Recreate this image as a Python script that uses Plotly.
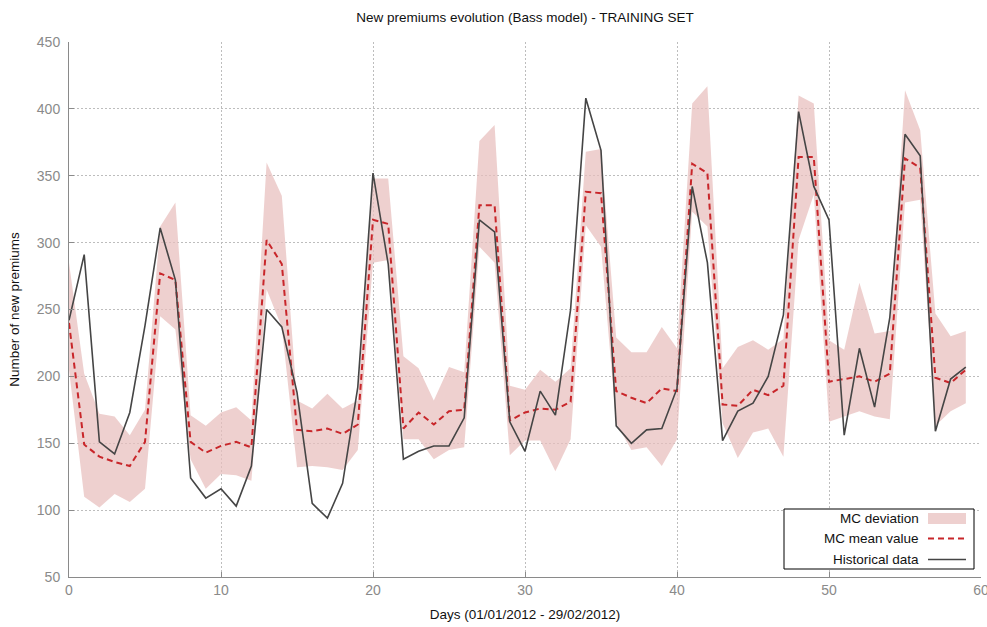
import plotly.graph_objects as go

days = list(range(60))
historical = [242, 291, 151, 142, 173, 238, 311, 272, 124, 109, 116, 103, 133, 250, 237,
              188, 105, 94, 120, 192, 352, 284, 138, 144, 148, 148, 169, 317, 308, 166,
              144, 189, 171, 250, 408, 369, 163, 150, 160, 161, 191, 342, 285, 152, 174,
              180, 200, 246, 398, 342, 317, 156, 221, 177, 244, 381, 365, 159, 198, 207]
mc_mean = [240, 149, 140, 136, 133, 151, 277, 272, 151, 143, 148, 151, 147, 302, 284,
           160, 159, 161, 157, 164, 317, 314, 161, 173, 164, 174, 175, 328, 328, 167,
           173, 176, 175, 181, 338, 337, 189, 184, 180, 191, 189, 359, 352, 179, 178,
           190, 186, 193, 364, 364, 196, 198, 200, 196, 202, 363, 356, 199, 195, 205]
mc_upper = [285, 202, 172, 170, 156, 175, 312, 330, 171, 163, 173, 177, 167, 360, 335,
            182, 176, 187, 176, 182, 348, 348, 215, 206, 182, 207, 203, 376, 388, 193,
            190, 205, 196, 206, 368, 370, 229, 218, 218, 237, 221, 404, 417, 206, 222,
            227, 220, 228, 410, 404, 227, 220, 270, 232, 234, 414, 384, 247, 230, 234]
mc_lower = [205, 110, 102, 112, 106, 116, 245, 235, 138, 116, 127, 126, 122, 265, 237,
            132, 133, 132, 130, 145, 285, 287, 153, 153, 138, 145, 147, 297, 285, 141,
            152, 152, 129, 153, 313, 297, 165, 145, 147, 133, 153, 323, 312, 165, 139,
            158, 161, 140, 302, 336, 166, 170, 174, 170, 168, 330, 332, 163, 174, 180]

x_ticks = [0, 10, 20, 30, 40, 50, 60]
y_ticks = [50, 100, 150, 200, 250, 300, 350, 400, 450]

FILL = "rgba(232,190,188,0.72)"
RED = "#c8262a"
DARK = "#454545"
GREY = "#8a8a8a"
TXT = dict(family="Liberation Sans, Arial", size=13.5, color="#111")

W, H = 987, 627
ML, MR, MT, MB = 69, 6, 42, 50

fig = go.Figure()
fig.add_trace(go.Scatter(x=days, y=mc_lower, mode="lines", line=dict(width=0),
                         hoverinfo="skip", showlegend=False))
fig.add_trace(go.Scatter(x=days, y=mc_upper, mode="lines", line=dict(width=0),
                         fill="tonexty", fillcolor=FILL, name="MC deviation",
                         showlegend=False))
fig.add_trace(go.Scatter(x=days, y=mc_mean, mode="lines", name="MC mean value",
                         line=dict(color=RED, width=2, dash="6px,4px"), showlegend=False))
fig.add_trace(go.Scatter(x=days, y=historical, mode="lines", name="Historical data",
                         line=dict(color=DARK, width=1.6), showlegend=False))

pw = W - ML - MR
ph = H - MT - MB


def px(xp):
    return (xp - ML) / pw


def py(yp):
    return (H - MB - yp) / ph


# custom legend (text left, symbol right)
shapes = [
    dict(type="rect", xref="paper", yref="paper", x0=px(784), x1=px(974), y0=py(569), y1=py(509),
         line=dict(color="black", width=1), fillcolor="white", layer="above"),
    dict(type="rect", xref="paper", yref="paper", x0=px(928), x1=px(966), y0=py(524), y1=py(513),
         line=dict(width=0), fillcolor=FILL, layer="above"),
    dict(type="line", xref="paper", yref="paper", x0=px(928), x1=px(966), y0=py(538.5), y1=py(538.5),
         line=dict(color=RED, width=2, dash="6px,4px"), layer="above"),
    dict(type="line", xref="paper", yref="paper", x0=px(928), x1=px(966), y0=py(559.5), y1=py(559.5),
         line=dict(color=DARK, width=1.6), layer="above"),
]
annotations = []
for label, yp in [("MC deviation", 518.5), ("MC mean value", 538.5), ("Historical data", 559.5)]:
    annotations.append(dict(text=label, xref="paper", yref="paper", x=px(921), y=py(yp),
                            xanchor="right", yanchor="middle", showarrow=False, font=TXT))

axis_common = dict(
    showgrid=True, gridcolor="#bdbdbd", griddash="2px,2px", gridwidth=1,
    showline=True, linecolor=GREY, linewidth=1,
    ticks="inside", ticklen=5, tickcolor=GREY,
    tickfont=dict(family="Liberation Sans Narrow, Liberation Sans", size=14, color=GREY),
    zeroline=False, ticklabeloverflow="allow",
)

fig.update_layout(
    width=W, height=H,
    margin=dict(l=ML, r=MR, t=MT, b=MB, autoexpand=False),
    paper_bgcolor="white", plot_bgcolor="white",
    title=dict(text="New premiums evolution (Bass model) - TRAINING SET",
               x=0.5, xref="paper", xanchor="center",
               y=1 - 17 / H, yref="container", yanchor="middle", font=TXT),
    xaxis=dict(range=[0, 60], tickvals=x_ticks, ticktext=[str(v) for v in x_ticks],
               title=dict(text="Days (01/01/2012 - 29/02/2012)", standoff=12, font=TXT),
               **axis_common),
    yaxis=dict(range=[50, 450], tickvals=y_ticks, ticktext=[str(v) for v in y_ticks],
               ticklabelstandoff=5,
               title=dict(text="Number of new premiums", standoff=14, font=TXT),
               **axis_common),
    shapes=shapes, annotations=annotations,
    showlegend=False,
)

fig.write_html("out.html")
